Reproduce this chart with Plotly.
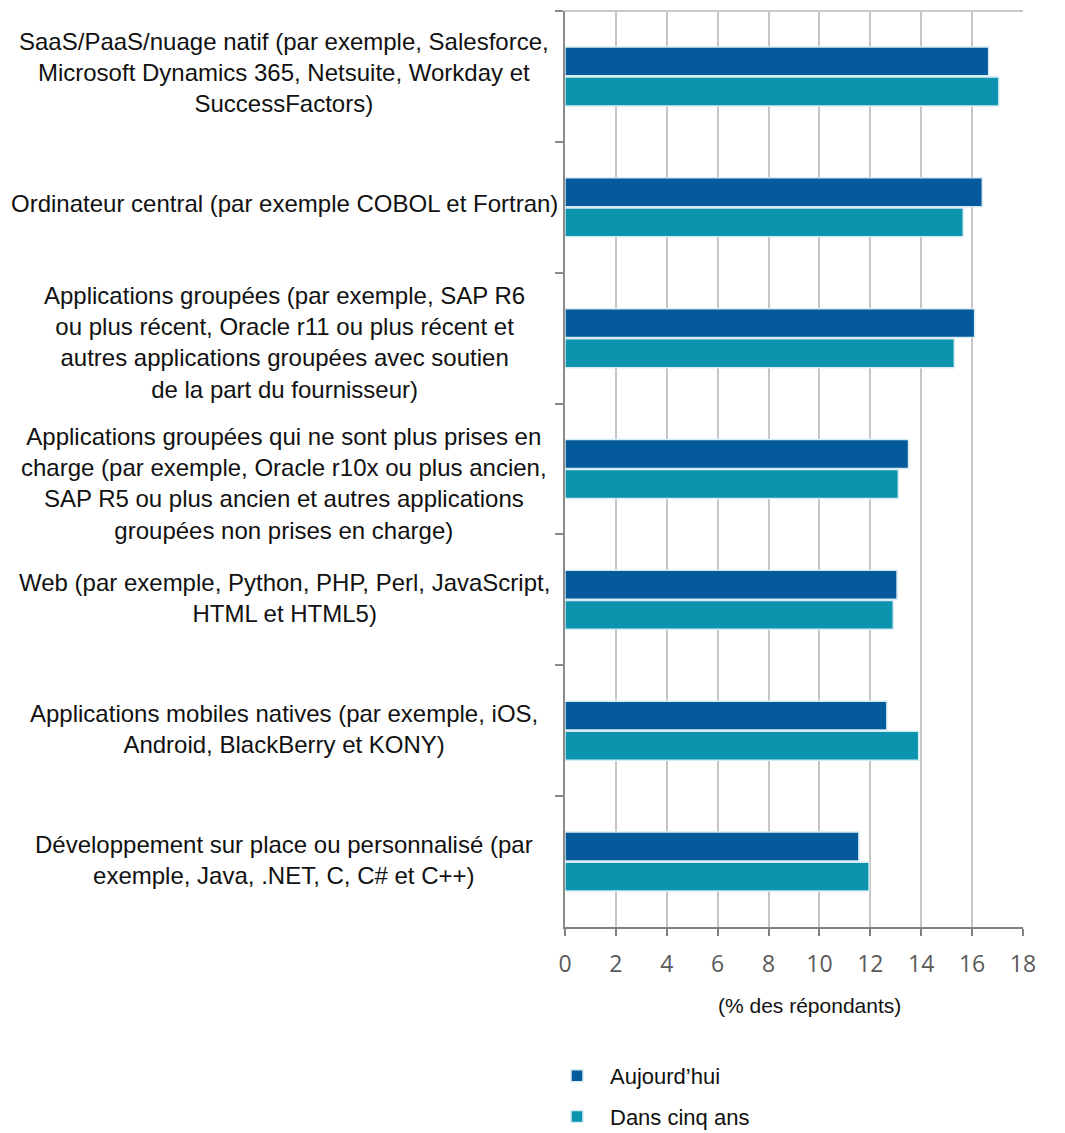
import plotly.graph_objects as go

# ---------------- data ----------------
categories = [
    "SaaS/PaaS/nuage natif (par exemple, Salesforce,<br>Microsoft Dynamics 365, Netsuite, Workday et<br>SuccessFactors)",
    "Ordinateur central (par exemple COBOL et Fortran)",
    "Applications groupées (par exemple, SAP R6<br>ou plus récent, Oracle r11 ou plus récent et<br>autres applications groupées avec soutien<br>de la part du fournisseur)",
    "Applications groupées qui ne sont plus prises en<br>charge (par exemple, Oracle r10x ou plus ancien,<br>SAP R5 ou plus ancien et autres applications<br>groupées non prises en charge)",
    "Web (par exemple, Python, PHP, Perl, JavaScript,<br>HTML et HTML5)",
    "Applications mobiles natives (par exemple, iOS,<br>Android, BlackBerry et KONY)",
    "Développement sur place ou personnalisé (par<br>exemple, Java, .NET, C, C# et C++)",
]
aujourdhui = [16.65, 16.4, 16.1, 13.5, 13.05, 12.65, 11.55]
dans_cinq_ans = [17.05, 15.65, 15.3, 13.1, 12.9, 13.9, 11.95]
series_names = ["Aujourd’hui", "Dans cinq ans"]
x_ticks = [0, 2, 4, 6, 8, 10, 12, 14, 16, 18]
x_title = "(% des répondants)"

# ---------------- layout helpers ----------------
OFF = 8  # page body margin
W, H = 1065 - OFF, 1133 - OFF
L, R, T, B = 565 - OFF, 1023 - OFF, 11 - OFF, 927 - OFF


def px_x(px):
    return (px - OFF - L) / (R - L)


def px_y(py):
    return (B - (py - OFF)) / (B - T)


DARK = "#045A9B"
LIGHT = "#0C93AE"
EDGE = "#d6ebf4"

fig = go.Figure()
fig.add_trace(go.Bar(
    y=categories, x=aujourdhui, orientation="h", name=series_names[0],
    marker=dict(color=DARK, line=dict(color=EDGE, width=1.5)),
    legendgroup="a", hoverinfo="x+name",
))
fig.add_trace(go.Bar(
    y=categories, x=dans_cinq_ans, orientation="h", name=series_names[1],
    marker=dict(color=LIGHT, line=dict(color=EDGE, width=1.5)),
    legendgroup="b", hoverinfo="x+name",
))

label_offsets = [4, 4, -4, -14, 2, 2, 2]
for cat, off in zip(categories, label_offsets):
    fig.add_annotation(
        xref="paper", yref="y", x=px_x(284), y=cat, text=cat,
        showarrow=False, xanchor="center", yanchor="middle", align="center",
        yshift=off, font=dict(family="Liberation Sans, Arial", size=24, color="#111111"),
    )

fig.add_annotation(
    xref="paper", yref="paper", x=px_x(809), y=px_y(1005), text=x_title,
    showarrow=False, xanchor="center", yanchor="middle",
    font=dict(family="Liberation Sans, Arial", size=21, color="#111111"),
)

# top border
fig.add_shape(type="line", xref="paper", yref="paper", x0=0, x1=1, y0=1, y1=1,
              line=dict(color="#c8c8c8", width=2))

fig.update_layout(
    width=W, height=H,
    margin=dict(l=L, r=W - R, t=T, b=H - B, pad=0, autoexpand=False),
    plot_bgcolor="white", paper_bgcolor="white",
    barmode="group", bargap=0.54, bargroupgap=0.04,
    showlegend=True,
    legend=dict(
        x=px_x(544), y=px_y(1055), xanchor="left", yanchor="top",
        traceorder="grouped", tracegroupgap=9, itemwidth=56,
        font=dict(family="Liberation Sans, Arial", size=22, color="#111111"),
        bgcolor="rgba(0,0,0,0)",
    ),
    xaxis=dict(
        range=[0, 18], tickvals=x_ticks, ticktext=[str(v) for v in x_ticks],
        showgrid=True, gridcolor="#c6c6c6", gridwidth=2,
        showline=True, linecolor="#808080", linewidth=2,
        ticks="outside", ticklen=7, tickwidth=2, tickcolor="#808080",
        ticklabelstandoff=8,
        zeroline=False, fixedrange=True,
        tickfont=dict(family="Open Sans", size=23, color="#5a5a5a"),
    ),
    yaxis=dict(
        type="category", categoryorder="array", categoryarray=categories,
        autorange="reversed", showticklabels=False, showgrid=False,
        showline=True, linecolor="#8a8a8a", linewidth=2,
        ticks="outside", tickson="boundaries", ticklen=8, tickwidth=2, tickcolor="#8a8a8a",
        zeroline=False, fixedrange=True,
    ),
)

fig.write_html("out.html")
